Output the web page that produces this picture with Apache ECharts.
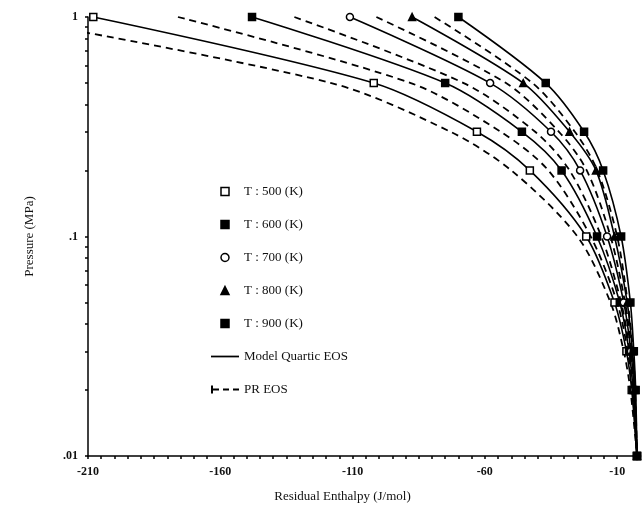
<!DOCTYPE html>
<html>
<head>
<meta charset="utf-8">
<script src="https://cdn.jsdelivr.net/npm/echarts@6/dist/echarts.min.js"></script>
<style>html,body{margin:0;padding:0;background:#fff}#c{width:642px;height:513px}</style>
</head>
<body>
<div id="c"></div>
<script>
// Pressure levels (MPa)
var pressures = [1, 0.5, 0.3, 0.2, 0.1, 0.05, 0.03, 0.02, 0.01];
// Residual enthalpy (J/mol), Model Quartic EOS
var model500 = [-208, -102, -63, -43, -21.7, -11, -6.5, -4.5, -2.5];
var model600 = [-148, -75, -46, -31, -17.6, -9, -5.5, -4, -2.5];
var model700 = [-111, -58, -35, -24, -13.8, -7.5, -4.8, -3.6, -2.5];
var model800 = [-87.5, -45.5, -28, -18, -11, -6.2, -4.2, -3.3, -2.5];
var model900 = [-70, -37, -22.5, -15.3, -8.5, -5, -3.7, -3, -2.5];
// Residual enthalpy (J/mol), PR EOS
var pr500 = [-243, -118, -73, -50, -25, -12.5, -7.5, -5, -2.5];
var pr600 = [-176, -88, -54, -36, -20, -10, -6, -4.2, -2.5];
var pr700 = [-132, -68, -41, -28, -16, -8.5, -5.2, -3.8, -2.5];
var pr800 = [-101, -52, -32, -21.5, -12.5, -7, -4.5, -3.5, -2.5];
var pr900 = [-79, -42, -26, -17.5, -10, -6, -4, -3.2, -2.5];
var temps = ['T : 500 (K)', 'T : 600 (K)', 'T : 700 (K)', 'T : 800 (K)', 'T : 900 (K)'];
var xTickLabels = [-210, -160, -110, -60, -10];
var yTickLabels = [0.01, 0.1, 1];

var modelSets = [model500, model600, model700, model800, model900];
var prSets = [pr500, pr600, pr700, pr800, pr900];

var SQ = 'path://M0,0h10v10h-10z';
var CI = 'path://M5,0A5,5 0 1,1 4.99,0Z';
var TR = 'path://M5,0L10,10L0,10Z';
var LINE_ICON = 'path://M0,0h32v2h-32z';
var DASH_ICON = 'path://M0,0h2v8h-2z M2,3h6v2h-6z M12,3h6v2h-6z M22,3h6v2h-6z';
var symbols = [SQ, SQ, CI, TR, SQ];
var filled = [false, true, false, true, true];

function pairs(xs) { return xs.map(function (x, i) { return [x, pressures[i]]; }); }

var FONT = 'Liberation Serif';
var series = [];
modelSets.forEach(function (xs, k) {
  series.push({
    name: temps[k], type: 'line', data: pairs(xs), smooth: 0.3,
    symbol: symbols[k], symbolSize: 7, showAllSymbol: true,
    lineStyle: { color: '#000', width: 1.6, type: 'solid' },
    itemStyle: { color: filled[k] ? '#000' : '#fff', borderColor: '#000', borderWidth: 1.5 },
    z: 3
  });
});
prSets.forEach(function (xs, k) {
  series.push({
    name: 'PR EOS', type: 'line', data: pairs(xs), smooth: 0.3, symbol: 'none',
    lineStyle: { color: '#000', width: 1.8, type: [7, 5] },
    itemStyle: { color: '#000' }, z: 2
  });
});
series.push({ name: 'Model Quartic EOS', type: 'line', data: [], symbol: 'none', lineStyle: { color: '#000', width: 1.6 }, itemStyle: { color: '#000' } });

var legendData = temps.map(function (t, k) {
  return { name: t, icon: symbols[k], itemStyle: { color: filled[k] ? '#000' : '#fff', borderColor: '#000', borderWidth: 1.5 } };
});
legendData.push({ name: 'Model Quartic EOS', icon: LINE_ICON, itemStyle: { color: '#000', borderWidth: 0 } });
legendData.push({ name: 'PR EOS', icon: DASH_ICON, itemStyle: { color: '#000', borderWidth: 0 } });

var xMinor = [];
for (var v = -210; v <= -10; v += 5) xMinor.push(v);
var yMinor = [];
[0.01, 0.1].forEach(function (d) { for (var m = 1; m <= 9; m++) yMinor.push(+(d * m).toFixed(4)); });
yMinor.push(1);

var chart = echarts.init(document.getElementById('c'), null, { renderer: 'canvas' });
chart.setOption({
  animation: false,
  backgroundColor: '#fff',
  grid: { left: 88, right: 5, top: 17, bottom: 57 },
  legend: {
    orient: 'vertical', left: 206, top: 180, itemGap: 20, itemWidth: 28, itemHeight: 8,
    selectedMode: false, data: legendData,
    textStyle: { fontFamily: FONT, fontSize: 13, color: '#111' }
  },
  xAxis: {
    type: 'value', min: -210, max: -2.5, interval: 50,
    name: 'Residual Enthalpy (J/mol)', nameLocation: 'middle', nameGap: 34,
    nameTextStyle: { fontFamily: FONT, fontSize: 13, color: '#111', padding: [0, 40, 0, 0] },
    axisLine: { lineStyle: { color: '#000', width: 1.5 } },
    axisTick: { show: true, length: 3, customValues: xMinor, lineStyle: { color: '#000', width: 1.5 } },
    axisLabel: { customValues: xTickLabels, fontFamily: FONT, fontSize: 12, fontWeight: 'bold', color: '#111', margin: 10 },
    splitLine: { show: false }
  },
  yAxis: {
    type: 'log', logBase: 10, min: 0.01, max: 1,
    name: 'Pressure (MPa)', nameLocation: 'middle', nameGap: 52,
    nameTextStyle: { fontFamily: FONT, fontSize: 13, color: '#111' },
    axisLine: { lineStyle: { color: '#000', width: 1.5 } },
    axisTick: { show: true, length: 3, customValues: yMinor, lineStyle: { color: '#000', width: 1.5 } },
    axisLabel: {
      customValues: yTickLabels, fontFamily: FONT, fontSize: 12, fontWeight: 'bold', color: '#111', margin: 10,
      formatter: function (v) { return v >= 1 ? '1' : String(v).replace(/^0/, ''); }
    },
    splitLine: { show: false }
  },
  series: series
});
</script>
</body>
</html>
